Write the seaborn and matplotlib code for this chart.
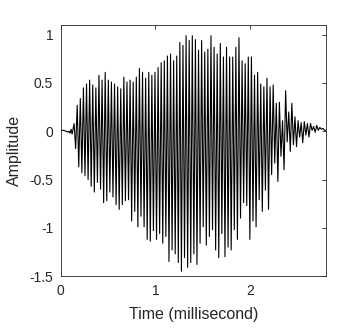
import numpy as np
import pandas as pd
import matplotlib
matplotlib.use("Agg")
import matplotlib.pyplot as plt
import seaborn as sns

# ---------------------------------------------------------------
# Data (amplitude, per cycle)
# ---------------------------------------------------------------
onset_vals = [0.01, 0.012, 0.008, 0.01, 0.004, 0.0, -0.004, -0.01, 0.0, -0.02, 0.02, -0.03]

peak_tops = [
    0.08, 0.27, 0.34, 0.45, 0.49, 0.53, 0.48, 0.45, 0.58, 0.53, 0.61,
    0.53, 0.51, 0.49, 0.46, 0.44, 0.56, 0.51, 0.53, 0.51, 0.56, 0.65, 0.61, 0.55, 0.61,
    0.58, 0.61, 0.66, 0.71, 0.73, 0.78, 0.80, 0.73, 0.78, 0.92, 0.89, 0.99, 0.94, 0.99, 0.95,
    0.84, 0.94, 0.82, 0.85, 0.99, 0.87, 0.80, 0.91, 0.77, 0.87, 0.77, 0.77, 0.87, 0.97, 0.73, 0.70,
    0.77, 0.77, 0.58, 0.61, 0.49, 0.46, 0.55, 0.46, 0.48, 0.29, 0.30, 0.11, 0.42, 0.20, 0.29,
    0.15, 0.11, 0.09, 0.10, 0.08, 0.08, 0.05, 0.06, 0.04, 0.03,
]

peak_bottoms = [
    -0.18, -0.37, -0.43, -0.46, -0.50, -0.57, -0.63, -0.53, -0.60, -0.74, -0.72,
    -0.63, -0.68, -0.76, -0.81, -0.76, -0.72, -0.71, -0.93, -0.83, -0.99, -0.88, -0.99, -1.12, -1.14,
    -1.03, -1.12, -1.06, -1.16, -1.09, -1.35, -1.23, -1.27, -1.36, -1.45, -1.31, -1.41, -1.36, -1.27, -1.38,
    -1.16, -0.99, -1.18, -1.09, -1.02, -1.23, -1.31, -1.06, -1.30, -1.20, -1.23, -1.02, -1.12, -0.90, -0.74, -0.77,
    -1.12, -0.93, -0.99, -0.71, -0.83, -0.61, -0.81, -0.45, -0.33, -0.52, -0.26, -0.40, -0.11, -0.21, -0.14,
    -0.16, -0.06, -0.12, -0.04, -0.06, 0.01, -0.01, 0.01, 0.02, 0.01,
]

end_val = 0.01

ONSET_END = 0.13   # ms, where the burst starts
BURST_END = 2.77   # ms, last wiggle
T_MAX = 2.8

# ---------------------------------------------------------------
# Build the time series (sample grid + values above)
# ---------------------------------------------------------------
t_onset = np.linspace(0, ONSET_END, len(onset_vals), endpoint=False)
t_tops = np.linspace(ONSET_END + 0.01, BURST_END, len(peak_tops))
half = (t_tops[1] - t_tops[0]) / 2
t_bottoms = t_tops + half

t_burst = np.empty(2 * len(peak_tops))
v_burst = np.empty(2 * len(peak_tops))
t_burst[0::2], t_burst[1::2] = t_tops, t_bottoms
v_burst[0::2], v_burst[1::2] = peak_tops, peak_bottoms

df = pd.DataFrame({
    "time": np.concatenate([t_onset, t_burst, [T_MAX]]),
    "amp": np.concatenate([onset_vals, v_burst, [end_val]]),
})

# ---------------------------------------------------------------
# Plot
# ---------------------------------------------------------------
sns.set_style("white")
plt.rcParams["font.family"] = ["Liberation Sans", "DejaVu Sans"]

fig = plt.figure(figsize=(3.6, 3.28), dpi=100)
ax = fig.add_axes([0.169, 0.1585, 0.736, 0.765])

sns.lineplot(data=df, x="time", y="amp", ax=ax, color="black",
             linewidth=0.8, estimator=None, sort=False)

ax.set_xlim(0, T_MAX)
ax.set_ylim(-1.5, 1.1)
ax.set_xticks([0, 1, 2])
ax.set_yticks([-1.5, -1, -0.5, 0, 0.5, 1])
ax.set_yticklabels(["-1.5", "-1", "-0.5", "0", "0.5", "1"])
ax.set_xlabel("Time (millisecond)", fontsize=11.5, color="#262626", labelpad=7)
ax.set_ylabel("Amplitude", fontsize=11.5, color="#262626", labelpad=5)

for side in ax.spines.values():
    side.set_color("#262626")
    side.set_linewidth(0.6)
ax.tick_params(direction="in", length=3, width=0.6, colors="#262626",
               labelsize=10, top=True, right=True, pad=5.5)

fig.savefig("out.png", dpi=100)
